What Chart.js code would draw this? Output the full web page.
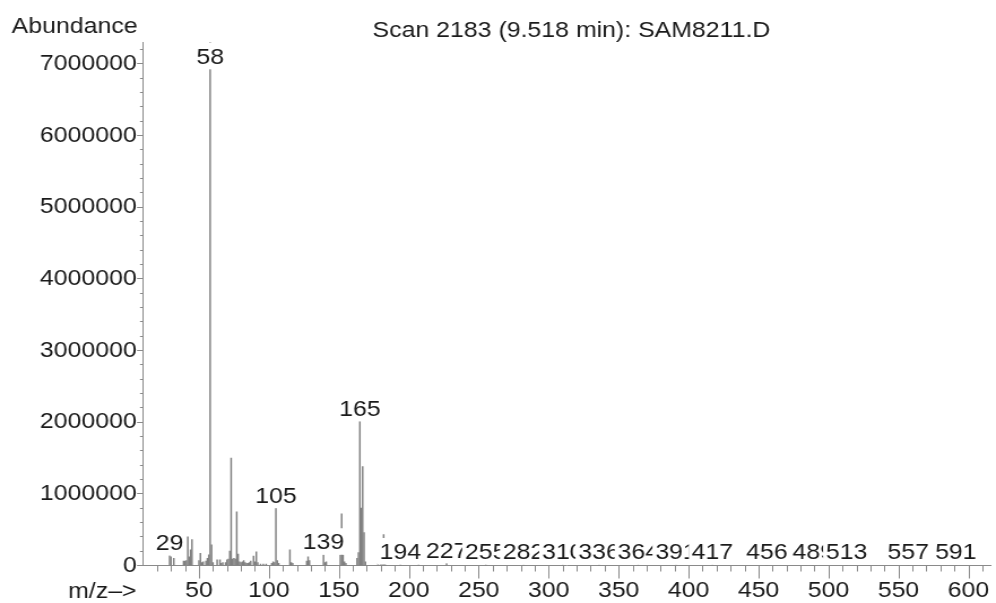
<!DOCTYPE html>
<html><head><meta charset="utf-8">
<script src="https://cdn.jsdelivr.net/npm/chart.js@4.4.1/dist/chart.umd.min.js"></script>
<style>
html,body{margin:0;padding:0;background:#fff;overflow:hidden;width:996px;height:603px;}
#wrap{position:absolute;left:0;top:0;width:881px;height:603px;transform:scaleX(1.1305);transform-origin:0 0;}
canvas{display:block;}
</style></head><body>
<div id="wrap"><canvas id="c" width="881" height="603"></canvas></div>
<script>
const chartTitle = 'Scan 2183 (9.518 min): SAM8211.D';
const yAxisTitle = 'Abundance';
const xAxisTitle = 'm/z–>';

const mzValues = [29,30,32,39,40,41,42,43,44,45,50,51,52,53,55,56,57,58,59,60,63,65,66,67,69,70,71,72,73,74,75,76,77,78,79,80,81,82,83,84,85,86,87,89,90,91,92,94,96,98,102,103,104,105,106,107,115,116,117,127,128,129,139,140,141,151,152,153,154,155,163,164,165,166,167,168,169,178,180,181,182,183,194,207,227,255,282,310,336,364,391,417,456,489,513,557,591];
const abundances = [140000,120000,100000,60000,60000,70000,400000,120000,220000,360000,70000,170000,40000,50000,60000,100000,150000,7500000,290000,40000,80000,80000,30000,40000,40000,80000,90000,200000,1500000,90000,100000,90000,750000,160000,50000,40000,50000,70000,40000,30000,30000,40000,60000,130000,50000,190000,40000,20000,20000,20000,30000,50000,40000,800000,70000,30000,220000,40000,30000,60000,120000,70000,150000,40000,50000,150000,720000,150000,50000,30000,100000,180000,2010000,800000,1380000,460000,50000,30000,20000,50000,430000,60000,10000,10000,30000,8000,6000,5000,5000,5000,5000,5000,4000,4000,4000,4000,4000];
const peakLabels = [29,58,105,139,165,194,227,255,282,310,336,364,391,417,456,489,513,557,591];
const xMajorTicks = [50,100,150,200,250,300,350,400,450,500,550,600];
const yMajorTicks = [0,1000000,2000000,3000000,4000000,5000000,6000000,7000000];
const xMinorStep = 10;
const yMinorStep = 200000;
const xMin = 10, xMax = 616, yMin = 0, yMax = 7300000;

const FONT = '"Liberation Sans", Arial, sans-serif';
const TEXT = '#1a1a1a';
const AXIS = '#8a8a8a';
const STICK = '#808080';

const points = mzValues.map((m, i) => ({x: m, y: abundances[i]}));

function range(a, b, step){ const r=[]; for(let v=a; v<=b+1e-9; v+=step) r.push(Math.round(v)); return r; }
const xTickValues = range(20, 610, xMinorStep);
const yTickValues = range(0, 7200000, yMinorStep);

const overlay = {
  id: 'overlay',
  afterDatasetsDraw(chart){
    const {ctx, chartArea: a, scales: {x, y}} = chart;
    ctx.save();
    ctx.strokeStyle = AXIS; ctx.lineWidth = 1;
    ctx.beginPath();
    xTickValues.forEach(v => {
      const px = Math.round(x.getPixelForValue(v)) + 0.5;
      const len = xMajorTicks.includes(v) ? 13 : 6;
      ctx.moveTo(px, a.bottom); ctx.lineTo(px, a.bottom + len);
    });
    yTickValues.forEach(v => {
      const py = Math.round(y.getPixelForValue(v) - 0.5) + 0.5;
      const len = yMajorTicks.includes(v) ? 5.3 : 2.7;
      ctx.moveTo(a.left, py); ctx.lineTo(a.left - len, py);
    });
    ctx.stroke();
    ctx.font = '22px ' + FONT;
    ctx.textAlign = 'center'; ctx.textBaseline = 'alphabetic';
    peakLabels.forEach(m => {
      const i = mzValues.indexOf(m);
      const val = abundances[i];
      const px = x.getPixelForValue(m);
      let bottom = Math.max(y.getPixelForValue(val), a.top + 27);
      bottom = Math.min(bottom, a.bottom - 1);
      const base = bottom - 5.5;
      const txt = String(m);
      const w = ctx.measureText(txt).width;
      ctx.fillStyle = '#ffffff';
      ctx.fillRect(px - w/2 - 2.5, base - 21, w + 5, bottom - (base - 21));
      ctx.fillStyle = TEXT;
      ctx.fillText(txt, px, base);
    });
    ctx.restore();
  },
  afterDraw(chart){
    const ctx = chart.ctx;
    ctx.save();
    ctx.fillStyle = TEXT;
    ctx.font = '22px ' + FONT;
    ctx.textBaseline = 'alphabetic';
    ctx.textAlign = 'left';
    ctx.fillText(yAxisTitle, 10.3, 33.3);
    ctx.fillText(xAxisTitle, 60.2, 598.3);
    ctx.textAlign = 'center';
    ctx.fillText(chartTitle, 505.5, 37.3);
    ctx.restore();
  }
};

new Chart(document.getElementById('c'), {
  type: 'bar',
  data: { datasets: [{ data: points, backgroundColor: STICK, borderWidth: 0, barThickness: 0.8, grouped: false }] },
  options: {
    responsive: false, animation: false, devicePixelRatio: 1,
    layout: { padding: { top: 42.3, right: 0.5, bottom: 0, left: 0 } },
    plugins: { legend: { display: false }, tooltip: { enabled: false }, title: { display: false } },
    scales: {
      x: {
        type: 'linear', min: xMin, max: xMax, offset: false,
        grid: { display: false, drawTicks: false },
        border: { display: true, color: AXIS, width: 1 },
        afterBuildTicks: s => { s.ticks = xTickValues.map(v => ({ value: v })); },
        afterFit: s => { s.height = 37.5; },
        ticks: {
          autoSkip: false, maxRotation: 0, minRotation: 0, padding: 12,
          color: TEXT, font: { family: FONT, size: 22 },
          callback: v => xMajorTicks.includes(v) ? String(v) : ''
        }
      },
      y: {
        type: 'linear', min: yMin, max: yMax,
        grid: { display: false, drawTicks: false },
        border: { display: true, color: AXIS, width: 1 },
        afterBuildTicks: s => { s.ticks = yTickValues.map(v => ({ value: v })); },
        afterFit: s => { s.width = 126.5; },
        ticks: {
          autoSkip: false, padding: 5.6,
          color: TEXT, font: { family: FONT, size: 22 },
          callback: v => yMajorTicks.includes(v) ? String(v) : ''
        }
      }
    }
  },
  plugins: [overlay]
});
</script>
</body></html>
